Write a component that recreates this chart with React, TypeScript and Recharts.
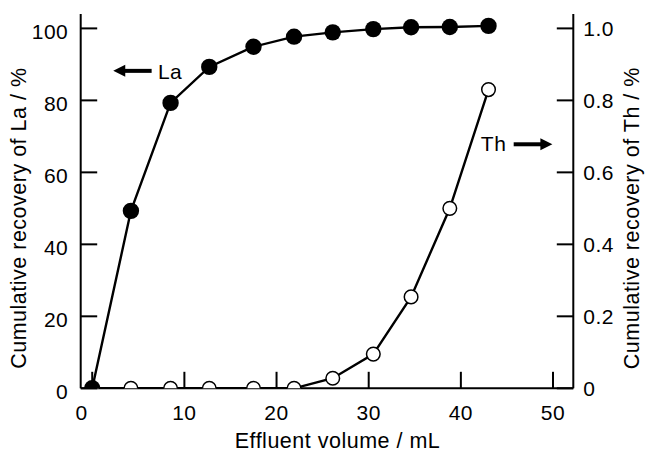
import React from 'react';
import { LineChart, Line, XAxis, YAxis, ReferenceDot, Label } from 'recharts';

const volumes = [0, 4.2, 8.5, 12.7, 17.5, 21.9, 26.1, 30.5, 34.6, 38.8, 43.0];
const laRecovery = [0, 49.3, 79.3, 89.3, 94.9, 97.7, 98.9, 99.8, 100.3, 100.4, 100.7];
const thRecovery = [0, 0, 0, 0, 0, 0, 0.028, 0.095, 0.254, 0.5, 0.83];
const xTicks = [0, 10, 20, 30, 40, 50];
const laTicks = [0, 20, 40, 60, 80, 100];
const thTicks = [0, 0.2, 0.4, 0.6, 0.8, 1.0];
const xTitle = 'Effluent volume / mL';
const laTitle = 'Cumulative recovery of La / %';
const thTitle = 'Cumulative recovery of Th / %';

const data = volumes.map((v, i) => ({ v, la: laRecovery[i], th: thRecovery[i] }));

const FONT = 'Arial, "Liberation Sans", Helvetica, sans-serif';
const FS = 21;
const TFS = 21.5;
const LS = 0.5;
const TL = 16.5;
const SW = 2;

const BottomTick = (p: any) => {
  const { x, y, payload } = p;
  const dx = payload.value === 0 ? -10.6 : 0;
  return (
    <g>
      <line x1={x} y1={y} x2={x} y2={y - TL} stroke="#000" strokeWidth={SW} />
      <text x={x + dx} y={y + 32} textAnchor="middle" fontFamily={FONT} fontSize={FS} letterSpacing={LS} fill="#000">
        {String(payload.value)}
      </text>
    </g>
  );
};

const TopTick = (p: any) => {
  const { x, y } = p;
  return <line x1={x} y1={y} x2={x} y2={y + TL} stroke="#000" strokeWidth={SW} />;
};

const LeftTick = (p: any) => {
  const { x, y, payload } = p;
  return (
    <g>
      <line x1={x} y1={y} x2={x + TL} y2={y} stroke="#000" strokeWidth={SW} />
      <text x={x - 12.4} y={y + 10.3} textAnchor="end" fontFamily={FONT} fontSize={FS} letterSpacing={LS} fill="#000">
        {String(payload.value)}
      </text>
    </g>
  );
};

const RightTick = (p: any) => {
  const { x, y, payload } = p;
  const v = payload.value;
  const label = v === 0 ? '0' : v.toFixed(1);
  return (
    <g>
      <line x1={x} y1={y} x2={x - TL} y2={y} stroke="#000" strokeWidth={SW} />
      <text x={x + 10} y={y + 7.5} textAnchor="start" fontFamily={FONT} fontSize={FS} letterSpacing={LS} fill="#000">
        {label}
      </text>
    </g>
  );
};

const LaArrow = (p: any) => {
  const { cx, cy } = p;
  return (
    <g>
      <polygon points={`${cx},${cy} ${cx + 12},${cy - 6} ${cx + 12},${cy + 6}`} fill="#000" />
      <line x1={cx + 11} y1={cy} x2={cx + 38.4} y2={cy} stroke="#000" strokeWidth={4} />
      <text x={cx + 44.7} y={cy + 8.5} fontFamily={FONT} fontSize={FS} letterSpacing={LS} fill="#000">La</text>
    </g>
  );
};

const ThArrow = (p: any) => {
  const { cx, cy } = p;
  return (
    <g>
      <polygon points={`${cx},${cy} ${cx - 12},${cy - 6} ${cx - 12},${cy + 6}`} fill="#000" />
      <line x1={cx - 11} y1={cy} x2={cx - 38.7} y2={cy} stroke="#000" strokeWidth={4} />
      <text x={cx - 46} y={cy + 6.5} textAnchor="end" fontFamily={FONT} fontSize={FS} letterSpacing={LS} fill="#000">Th</text>
    </g>
  );
};

export default function App() {
  return (
    <div style={{ position: 'absolute', left: 0, top: 0, background: '#fff' }}>
      <LineChart width={645} height={453} data={data} margin={{ top: 14, right: 0, bottom: 0, left: 0 }}>
        <XAxis
          dataKey="v"
          type="number"
          domain={[-1.25, 52.2]}
          allowDataOverflow
          ticks={xTicks}
          interval={0}
          height={64.7}
          tickSize={0}
          tickMargin={0}
          tick={<BottomTick />}
          axisLine={{ stroke: '#000', strokeWidth: SW }}
        >
          <Label
            content={(p: any) => {
              const vb = p.viewBox;
              return (
                <text x={vb.x + vb.width / 2 + 10.5} y={vb.y + 59.7} textAnchor="middle" fontFamily={FONT} fontSize={TFS} letterSpacing={LS} fill="#000">
                  {xTitle}
                </text>
              );
            }}
          />
        </XAxis>
        <XAxis
          xAxisId="top"
          orientation="top"
          dataKey="v"
          type="number"
          domain={[-1.25, 52.2]}
          allowDataOverflow
          ticks={xTicks}
          interval={0}
          height={0}
          tickSize={0}
          tickMargin={0}
          tick={<TopTick />}
          axisLine={{ stroke: '#000', strokeWidth: SW }}
        />
        <YAxis
          yAxisId="left"
          type="number"
          domain={[0, 104]}
          allowDataOverflow
          ticks={laTicks}
          interval={0}
          width={80.7}
          tickSize={0}
          tickMargin={0}
          tick={<LeftTick />}
          axisLine={{ stroke: '#000', strokeWidth: SW }}
        >
          <Label
            content={(p: any) => {
              const vb = p.viewBox;
              const x = vb.x + 26;
              const y = vb.y + vb.height / 2 + 17;
              return (
                <text x={x} y={y} transform={`rotate(-90, ${x}, ${y})`} textAnchor="middle" fontFamily={FONT} fontSize={TFS} letterSpacing={LS} fill="#000">
                  {laTitle}
                </text>
              );
            }}
          />
        </YAxis>
        <YAxis
          yAxisId="right"
          orientation="right"
          type="number"
          domain={[0, 1.04]}
          allowDataOverflow
          ticks={thTicks}
          interval={0}
          width={71.7}
          tickSize={0}
          tickMargin={0}
          tick={<RightTick />}
          axisLine={{ stroke: '#000', strokeWidth: SW }}
        >
          <Label
            content={(p: any) => {
              const vb = p.viewBox;
              const x = vb.x + 66;
              const y = vb.y + vb.height / 2 + 17;
              return (
                <text x={x} y={y} transform={`rotate(-90, ${x}, ${y})`} textAnchor="middle" fontFamily={FONT} fontSize={TFS} letterSpacing={LS} fill="#000">
                  {thTitle}
                </text>
              );
            }}
          />
        </YAxis>
        <Line
          yAxisId="right"
          dataKey="th"
          type="linear"
          stroke="#000"
          strokeWidth={2.4}
          dot={{ r: 6.8, fill: '#fff', stroke: '#000', strokeWidth: 1.5 }}
          activeDot={false}
          isAnimationActive={false}
        />
        <Line
          yAxisId="left"
          dataKey="la"
          type="linear"
          stroke="#000"
          strokeWidth={2.4}
          dot={{ r: 8.2, fill: '#000', stroke: '#000', strokeWidth: 0 }}
          activeDot={false}
          isAnimationActive={false}
        />
        <ReferenceDot yAxisId="left" x={2.28} y={88.2} r={0} shape={<LaArrow />} />
        <ReferenceDot yAxisId="right" x={49.93} y={0.678} r={0} shape={<ThArrow />} />
      </LineChart>
    </div>
  );
}
